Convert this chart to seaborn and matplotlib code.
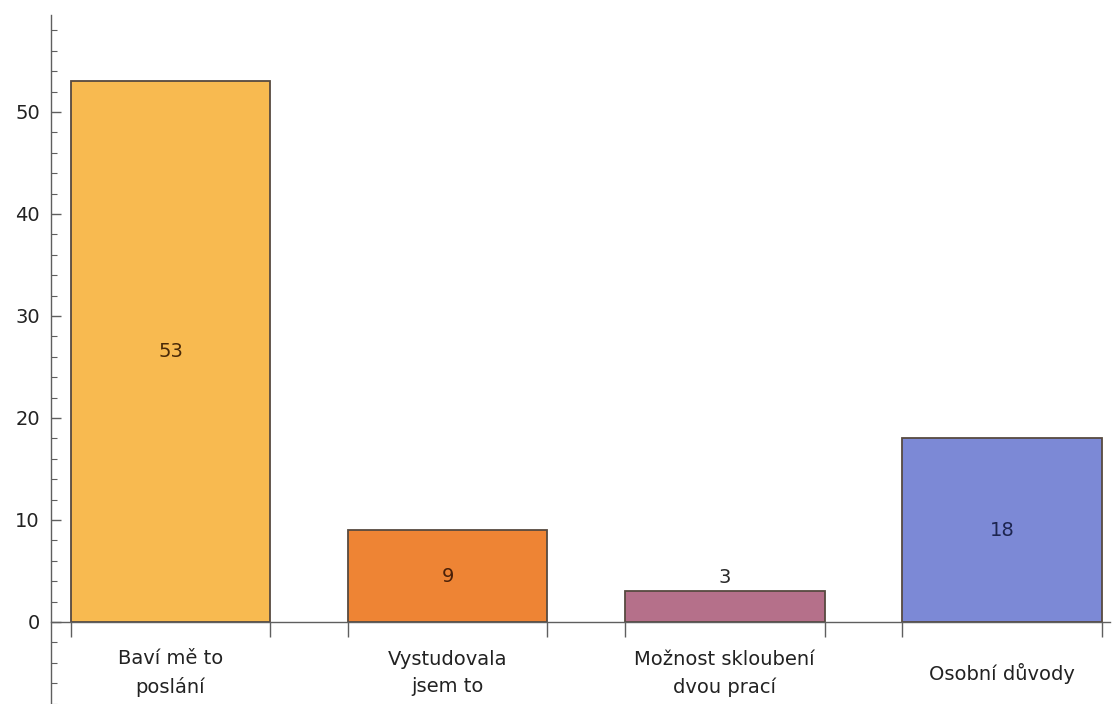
import matplotlib
matplotlib.use("Agg")
import matplotlib.pyplot as plt
from matplotlib.ticker import MultipleLocator, FixedLocator
import seaborn as sns
import pandas as pd

categories = ["Baví mě to\nposlání", "Vystudovala\njsem to",
              "Možnost skloubení\ndvou prací", "Osobní důvody"]
values = [53, 9, 3, 18]
colors = ["#F8BA50", "#EE8434", "#B5708A", "#7C89D6"]
label_colors = ["#4a2a08", "#4a2008", "#2a2a2a", "#1d2550"]

sns.set_theme(style="white")
plt.rcParams["font.family"] = ["DejaVu Sans"]

df = pd.DataFrame({"cat": categories, "val": values})

fig = plt.figure(figsize=(11.14, 7.04), dpi=100)
ax = fig.add_axes([51 / 1114, 0.0, (1110 - 51) / 1114, (704 - 15) / 704])

bw = 0.72
sns.barplot(data=df, x="cat", y="val", hue="cat", palette=colors, width=bw,
            edgecolor="#574a40", linewidth=1.3, legend=False, ax=ax,
            saturation=1)

ax.set_xlim(-0.431, 3.39)
ax.set_ylim(-8.04, 59.5)
ax.set_xlabel("")
ax.set_ylabel("")

fs = 14
# value labels: inside tall bars, above short ones
for i, (v, c) in enumerate(zip(values, label_colors)):
    if v >= 6:
        ax.text(i, v / 2, str(v), ha="center", va="center", fontsize=fs, color=c)
    else:
        ax.annotate(str(v), (i, v), xytext=(0, 10), textcoords="offset points",
                    ha="center", va="center", fontsize=fs, color=c)

axis_col = "#5f5f5f"
for s in ["top", "right"]:
    ax.spines[s].set_visible(False)
ax.spines["bottom"].set_position(("data", 0))
ax.spines["left"].set_color(axis_col)
ax.spines["bottom"].set_color(axis_col)
ax.spines["left"].set_linewidth(1.0)
ax.spines["bottom"].set_linewidth(1.0)

# y ticks
ax.yaxis.set_minor_locator(MultipleLocator(2))
ax.set_yticks([0, 10, 20, 30, 40, 50])
ax.tick_params(axis="y", which="major", direction="in", length=7, width=1,
               color=axis_col, labelsize=fs, labelcolor="#222222", pad=8, left=True)
ax.tick_params(axis="y", which="minor", direction="in", length=4, width=0.8,
               color=axis_col, left=True)

# x ticks: labels at bar centres, marks at bar edges
ax.set_xticks(range(len(categories)))
ax.set_xticklabels(categories, va="center", linespacing=1.55)
edges = []
for i in range(len(categories)):
    edges += [i - bw / 2, i + bw / 2]
ax.xaxis.set_minor_locator(FixedLocator(edges))
ax.tick_params(axis="x", which="major", length=0, labelsize=fs,
               labelcolor="#222222", pad=37, bottom=True)
ax.tick_params(axis="x", which="minor", direction="out", length=11, width=1,
               color=axis_col, bottom=True)

fig.savefig("out.png", dpi=100)
